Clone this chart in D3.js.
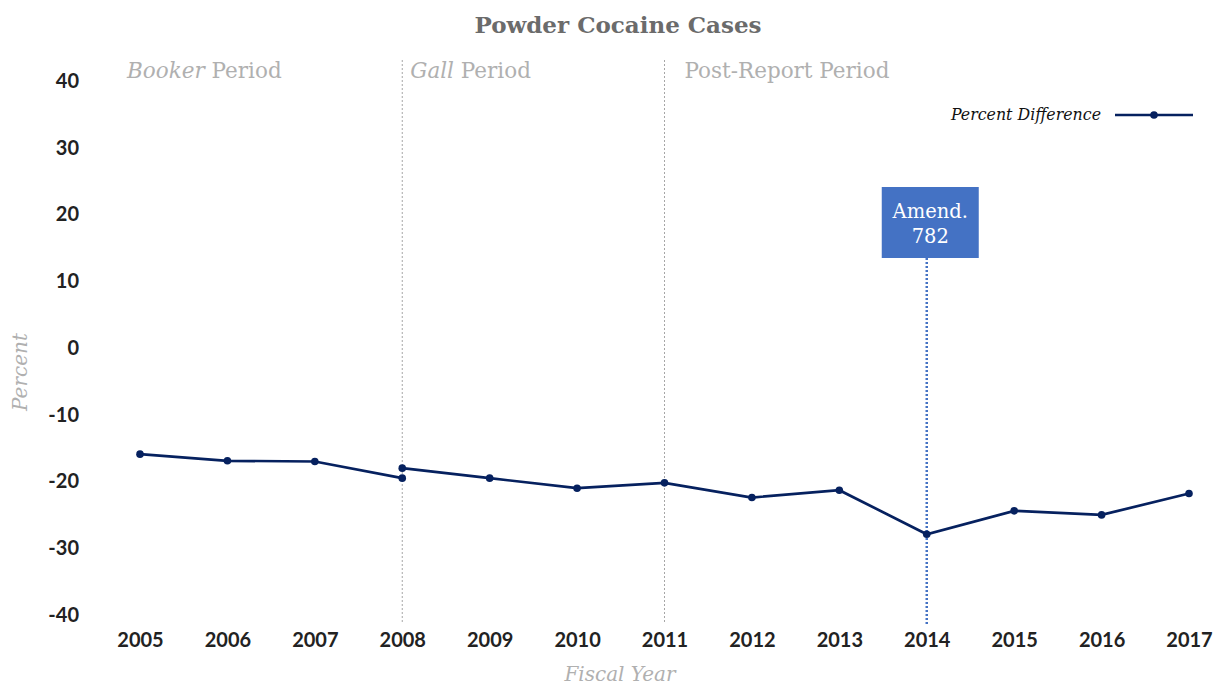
<!DOCTYPE html>
<html>
<head>
<meta charset="utf-8">
<script src="https://cdn.jsdelivr.net/npm/d3@7"></script>
<style>
    body { margin: 0; background: #fff; }
    svg { display: block; }
</style>
</head>
<body>
<div id="chart"></div>
<script>
// values
var years = [2005, 2006, 2007, 2008, 2009, 2010, 2011, 2012, 2013, 2014, 2015, 2016, 2017];
var bookerYears = [2005, 2006, 2007, 2008];
var bookerValues = [-15.9, -16.9, -17.0, -19.5];
var laterYears = [2008, 2009, 2010, 2011, 2012, 2013, 2014, 2015, 2016, 2017];
var laterValues = [-18.0, -19.5, -21.0, -20.2, -22.4, -21.3, -27.9, -24.4, -25.0, -21.8];
var yTicks = [-40, -30, -20, -10, 0, 10, 20, 30, 40];
var periodBreaks = [2008, 2011];
var periods = [
    {year: 2005, italic: "Booker", rest: " Period"},
    {year: 2008, italic: "Gall", rest: " Period"},
    {year: 2011, italic: "", rest: "Post-Report Period"}
];
var amendYear = 2014;

var svgWidth = 1220, svgHeight = 686;
var serif = "'DejaVu Serif', serif";
var navy = "#06215f";

var svg = d3.select("#chart").append("svg")
    .attr("width", svgWidth)
    .attr("height", svgHeight);

var x = d3.scaleLinear().domain([2005, 2017]).range([140, 1189]);
var y = d3.scaleLinear().domain([-40, 40]).range([615, 81]);

// title
svg.append("text")
    .attr("x", 618).attr("y", 33)
    .attr("text-anchor", "middle")
    .attr("font-family", serif)
    .attr("font-weight", "bold")
    .attr("font-size", 23)
    .attr("fill", "#6b6b6b")
    .text("Powder Cocaine Cases");

// period divider lines
svg.selectAll(".divider")
    .data(periodBreaks)
    .enter()
    .append("line")
    .attr("class", "divider")
    .attr("x1", function (d) { return x(d); })
    .attr("x2", function (d) { return x(d); })
    .attr("y1", 60).attr("y2", 624)
    .attr("stroke", "#a6a6a6")
    .attr("stroke-width", 1)
    .attr("stroke-dasharray", "2,2");

// period labels
var pl = svg.selectAll(".period")
    .data(periods)
    .enter()
    .append("text")
    .attr("class", "period")
    .attr("x", function (d) { return x(d.year) + (d.year === 2005 ? -13 : 8) + (d.year === 2011 ? 12 : 0); })
    .attr("y", 78)
    .attr("font-family", serif)
    .attr("font-size", 21.5)
    .attr("fill", "#b0b0b0");
pl.append("tspan")
    .attr("font-style", "italic")
    .text(function (d) { return d.italic; });
pl.append("tspan")
    .text(function (d) { return d.rest; });

// y axis
var yAxis = svg.append("g")
    .attr("transform", "translate(79,0)")
    .call(d3.axisLeft(y).tickValues(yTicks).tickFormat(function (d) { return String(d); })
        .tickSize(0).tickPadding(0));
yAxis.select(".domain").remove();
yAxis.selectAll("text")
    .attr("font-family", "Lato, sans-serif")
    .attr("font-weight", "bold")
    .attr("font-size", 20)
    .attr("fill", "#222");

// x axis
var xAxis = svg.append("g")
    .attr("transform", "translate(0,633)")
    .call(d3.axisBottom(x).tickValues(years).tickFormat(d3.format("d")).tickSize(0).tickPadding(0));
xAxis.select(".domain").remove();
xAxis.selectAll("text")
    .attr("dy", "0.71em")
    .attr("font-family", "Lato, sans-serif")
    .attr("font-weight", "bold")
    .attr("font-size", 20)
    .attr("fill", "#222");

// axis titles
svg.append("text")
    .attr("transform", "translate(27,372) rotate(-90)")
    .attr("text-anchor", "middle")
    .attr("font-family", serif)
    .attr("font-style", "italic")
    .attr("font-size", 20)
    .attr("fill", "#b0b0b0")
    .text("Percent");

svg.append("text")
    .attr("x", 620).attr("y", 681)
    .attr("text-anchor", "middle")
    .attr("font-family", serif)
    .attr("font-style", "italic")
    .attr("font-size", 20)
    .attr("fill", "#b0b0b0")
    .text("Fiscal Year");

// Amendment 782 marker
svg.append("line")
    .attr("x1", x(amendYear)).attr("x2", x(amendYear))
    .attr("y1", 258).attr("y2", 624)
    .attr("stroke", "#4472c4")
    .attr("stroke-width", 2.5)
    .attr("stroke-dasharray", "2,2");

svg.append("rect")
    .attr("x", x(amendYear) - 45).attr("y", 187)
    .attr("width", 97).attr("height", 71)
    .attr("fill", "#4472c4");

svg.append("text")
    .attr("x", x(amendYear) + 3.5).attr("y", 218)
    .attr("text-anchor", "middle")
    .attr("font-family", serif)
    .attr("font-size", 19.5)
    .attr("fill", "#fff")
    .text("Amend.");
svg.append("text")
    .attr("x", x(amendYear) + 3.5).attr("y", 243)
    .attr("text-anchor", "middle")
    .attr("font-family", serif)
    .attr("font-size", 19.5)
    .attr("fill", "#fff")
    .text("782");

// series
var line = d3.line()
    .x(function (d) { return x(d.x); })
    .y(function (d) { return y(d.y); });

function drawSeries(xs, ys) {
    var pts = xs.map(function (d, i) { return {x: d, y: ys[i]}; });
    svg.append("path")
        .datum(pts)
        .attr("d", line)
        .attr("fill", "none")
        .attr("stroke", navy)
        .attr("stroke-width", 2.7);
    svg.append("g").selectAll("circle")
        .data(pts)
        .enter()
        .append("circle")
        .attr("cx", function (d) { return x(d.x); })
        .attr("cy", function (d) { return y(d.y); })
        .attr("r", 3.8)
        .attr("fill", navy);
}
drawSeries(bookerYears, bookerValues);
drawSeries(laterYears, laterValues);

// legend
svg.append("text")
    .attr("x", 1101).attr("y", 120)
    .attr("text-anchor", "end")
    .attr("font-family", serif)
    .attr("font-style", "italic")
    .attr("font-size", 15.8)
    .attr("fill", "#111")
    .text("Percent Difference");
svg.append("line")
    .attr("x1", 1115).attr("x2", 1193)
    .attr("y1", 115).attr("y2", 115)
    .attr("stroke", navy)
    .attr("stroke-width", 2.7);
svg.append("circle")
    .attr("cx", 1154).attr("cy", 115)
    .attr("r", 3.8)
    .attr("fill", navy);
</script>
</body>
</html>
